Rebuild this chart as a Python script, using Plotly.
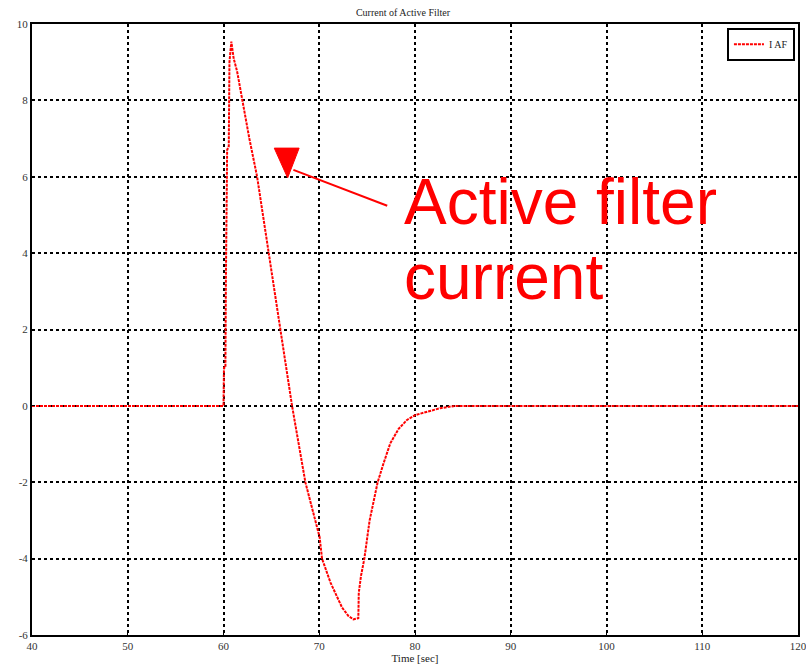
import plotly.graph_objects as go

# Time [sec] and active filter current
time_s = [40, 60.0, 60.05, 60.2, 60.25, 60.38, 60.55, 60.62, 60.82, 61.06, 61.42, 61.94,
          62.7, 63.51, 64.37, 64.72, 65.94, 67.16, 68.55, 70.04, 70.29, 71.16,
          72.38, 73.04, 73.56, 74.08, 74.13, 74.36, 74.71, 75.26, 76.10, 76.72,
          77.42, 78.29, 79.16, 80.03, 82.64, 84.2, 120]
i_af = [0, 0, 1.0, 1.0, 3.3, 6.7, 6.8, 9.0, 9.54, 9.1, 8.76, 8.0,
        7.0, 6.0, 4.63, 4.0, 2.0, 0.0, -2.0, -3.44, -4.0, -4.62,
        -5.28, -5.5, -5.59, -5.56, -4.89, -4.45, -4.0, -3.0, -2.0, -1.5,
        -0.98, -0.6, -0.37, -0.24, -0.06, 0.0, 0]

x_ticks = [40, 50, 60, 70, 80, 90, 100, 110, 120]
y_ticks = [-6, -4, -2, 0, 2, 4, 6, 8, 10]

serif = "Liberation Serif, Times New Roman, serif"

fig = go.Figure()
fig.add_trace(go.Scatter(
    x=time_s, y=i_af, mode="lines", name="I AF",
    line=dict(color="#ff0000", width=2, dash="3px,1px"),
))

# arrow pointing to the curve
fig.add_shape(type="line", xref="x", yref="y", x0=67.3, y0=6.18, x1=77.1, y1=5.24,
              line=dict(color="#ff0000", width=2))
fig.add_shape(type="path", xref="x", yref="y",
              path="M 65.3 6.75 L 67.9 6.75 L 66.7 5.97 Z",
              fillcolor="#ff0000", line=dict(color="#ff0000", width=1))

fig.add_annotation(x=78.6, y=5.34, xref="x", yref="y", text="Active filter",
                   showarrow=False, xanchor="left", yanchor="middle",
                   font=dict(family="Liberation Sans, Arial, sans-serif", size=64, color="#ff0000"))
fig.add_annotation(x=78.6, y=3.37, xref="x", yref="y", text="current",
                   showarrow=False, xanchor="left", yanchor="middle",
                   font=dict(family="Liberation Sans, Arial, sans-serif", size=64, color="#ff0000"))

axis_common = dict(
    showgrid=True, gridcolor="black", gridwidth=2, griddash="dot",
    showline=True, linecolor="black", linewidth=2, mirror=True,
    zeroline=False, ticks="inside", ticklen=3, tickcolor="black",
    tickfont=dict(family=serif, size=11, color="#333333"),
    automargin=False, ticklabeloverflow="allow",
)

fig.update_layout(
    width=806, height=667,
    margin=dict(l=32, r=8, t=24, b=32),
    paper_bgcolor="white", plot_bgcolor="white",
    title=dict(text="Current of Active Filter", x=0.5, xanchor="center", y=0.982, yanchor="middle",
               font=dict(family=serif, size=10, color="#222222"), automargin=False),
    xaxis=dict(range=[40, 120], tickvals=x_ticks, ticktext=[str(v) for v in x_ticks],
               title=dict(text="Time [sec]", font=dict(family=serif, size=11, color="#222222"), standoff=2),
               **axis_common),
    yaxis=dict(range=[-6, 10], tickvals=y_ticks, ticktext=[str(v) for v in y_ticks], **axis_common),
    showlegend=True,
    legend=dict(x=0.996, y=0.994, xanchor="right", yanchor="top",
                bgcolor="white", bordercolor="black", borderwidth=2,
                font=dict(family=serif, size=10, color="#222222"),
                itemwidth=30, tracegroupgap=0),
)

fig.write_html("out.html", config={"displayModeBar": False},
               post_script="document.body.style.margin='0px';document.body.style.overflow='hidden';")
